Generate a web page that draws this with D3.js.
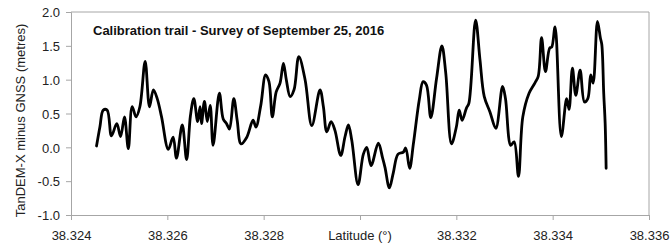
<!DOCTYPE html>
<html>
<head>
<meta charset="utf-8">
<script src="https://cdn.jsdelivr.net/npm/d3@7"></script>
<style>
  html, body { margin: 0; padding: 0; background: #fff; }
  svg { display: block; }
  text { font-family: "Liberation Sans", Arial, sans-serif; }
</style>
</head>
<body>
<svg id="chart" width="670" height="244"></svg>
<script>
// ---- data ----
const chartTitle = "Calibration trail - Survey of September 25, 2016";
const xTitle = "Latitude (°)";
const yTitle = "TanDEM-X minus GNSS (metres)";
const xTicks = [38.324, 38.326, 38.328, 38.330, 38.332, 38.334, 38.336];
const xTickLabels = ["38.324", "38.326", "38.328", "", "38.332", "38.334", "38.336"];
const yTicks = [-1.0, -0.5, 0.0, 0.5, 1.0, 1.5, 2.0];
const yTickLabels = ["-1.0", "-0.5", "0.0", "0.5", "1.0", "1.5", "2.0"];

const latitude = [
  38.32453, 38.32460, 38.32467, 38.32475, 38.32484, 38.32495, 38.32503, 38.32511,
  38.32519, 38.32527, 38.32535, 38.32543, 38.32554, 38.32563, 38.32571, 38.32579,
  38.32588, 38.32602, 38.32612, 38.32619, 38.32631, 38.32640, 38.32648, 38.32655,
  38.32663, 38.32668, 38.32671, 38.32677, 38.32683, 38.32689, 38.32695, 38.32708,
  38.32716, 38.32723, 38.32729, 38.32738, 38.32745, 38.32753, 38.32765, 38.32778,
  38.32784, 38.32794, 38.32804, 38.32811, 38.32818, 38.32826, 38.32834, 38.32841,
  38.32847, 38.32855, 38.32863, 38.32873, 38.32886, 38.32900, 38.32917, 38.32924,
  38.32931, 38.32940, 38.32948, 38.32960, 38.32969, 38.32976, 38.32983, 38.32996,
  38.33007, 38.33014, 38.33023, 38.33038, 38.33047, 38.33052, 38.33061, 38.33069,
  38.33079, 38.33090, 38.33095, 38.33103, 38.33111, 38.33123, 38.33131, 38.33138,
  38.33147, 38.33159, 38.33170, 38.33178, 38.33190, 38.33200, 38.33206, 38.33212,
  38.33221, 38.33226, 38.33240, 38.33249, 38.33258, 38.33270, 38.33282, 38.33296,
  38.33302, 38.33313, 38.33320, 38.33329, 38.33338, 38.33351, 38.33363, 38.33370,
  38.33377, 38.33385, 38.33394, 38.33398, 38.33405, 38.33418, 38.33429, 38.33434,
  38.33441, 38.33448, 38.33457, 38.33466, 38.33473, 38.33479, 38.33484, 38.33493,
  38.33499, 38.33502, 38.33506, 38.33509, 38.33511
];
const heightDiff = [
   0.02,  0.30,  0.55,  0.55,  0.17,  0.35,  0.16,  0.45,
  -0.02,  0.60,  0.45,  0.60,  1.27,  0.60,  0.85,  0.72,
   0.45, -0.03,  0.15, -0.16,  0.33, -0.18,  0.47,  0.72,
   0.38,  0.60,  0.35,  0.68,  0.38,  0.62,  0.03,  0.80,
   0.42,  0.35,  0.27,  0.72,  0.40,  0.05,  0.15,  0.40,
   0.30,  0.62,  1.07,  0.97,  0.45,  0.82,  0.95,  1.24,
   1.00,  0.75,  0.85,  1.34,  1.00,  0.32,  0.85,  0.60,
   0.23,  0.38,  0.25, -0.12,  0.16,  0.33,  0.10, -0.55,
  -0.10,  0.00, -0.27,  0.06, -0.16, -0.30, -0.60, -0.38,
  -0.10, -0.07, -0.01, -0.31,  0.06,  0.70,  0.97,  0.92,
   0.44,  1.02,  1.50,  1.10,  0.05,  0.30,  0.55,  0.40,
   0.58,  0.65,  1.88,  1.30,  0.75,  0.52,  0.28,  0.90,
   0.72,  0.03,  0.08, -0.43,  0.45,  0.80,  0.95,  1.05,
   1.62,  1.12,  1.47,  1.48,  1.78,  0.16,  0.72,  0.56,
   1.17,  0.77,  1.14,  0.67,  0.72,  1.07,  0.95,  1.86,
   1.62,  1.52,  0.80,  0.35, -0.31
];

// ---- layout ----
const svg = d3.select("#chart");
const margin = { left: 71, top: 12, right: 21, bottom: 29 };
const W = 670, H = 244;
const x = d3.scaleLinear().domain([38.324, 38.336]).range([margin.left, W - margin.right]);
const y = d3.scaleLinear().domain([-1.0, 2.0]).range([H - margin.bottom, margin.top]);
const frameColor = "#a6a6a6";

// frame (top and right)
svg.append("line").attr("x1", x(38.324)).attr("x2", x(38.336))
  .attr("y1", y(2.0)).attr("y2", y(2.0)).attr("stroke", frameColor).attr("stroke-width", 1);
svg.append("line").attr("x1", x(38.336)).attr("x2", x(38.336))
  .attr("y1", y(2.0)).attr("y2", y(-1.0)).attr("stroke", frameColor).attr("stroke-width", 1);

// axes
const xAxis = d3.axisBottom(x).tickValues(xTicks).tickSize(5)
  .tickFormat((d, i) => xTickLabels[i]);
const gx = svg.append("g").attr("transform", `translate(0,${y(-1.0)})`).call(xAxis);
const yAxis = d3.axisLeft(y).tickValues(yTicks).tickSize(5)
  .tickFormat((d, i) => yTickLabels[i]);
const gy = svg.append("g").attr("transform", `translate(${x(38.324)},0)`).call(yAxis);

[gx, gy].forEach(g => {
  g.select(".domain").attr("stroke", frameColor);
  g.selectAll(".tick line").attr("stroke", frameColor);
  g.selectAll(".tick text").attr("fill", "#222")
    .style("font-family", '"Liberation Sans", Arial, sans-serif').style("font-size", "13px");
});
gx.selectAll(".tick text").attr("dy", "0").attr("y", 25);
gy.selectAll(".tick text").attr("x", -11).attr("dy", "0.36em");

// data line
const pts = latitude.map((lat, i) => [lat, heightDiff[i]]);
const line = d3.line().x(d => x(d[0])).y(d => y(d[1])).curve(d3.curveCatmullRom.alpha(0.5));
svg.append("path").datum(pts).attr("d", line)
  .attr("fill", "none").attr("stroke", "#000").attr("stroke-width", 2.8)
  .attr("stroke-linejoin", "round").attr("stroke-linecap", "round");

// titles
svg.append("text").attr("x", 93).attr("y", 35)
  .style("font-weight", "bold").style("font-size", "13px").attr("fill", "#111")
  .text(chartTitle);
svg.append("text").attr("x", x(38.330)).attr("y", 240).attr("text-anchor", "middle")
  .style("font-size", "13px").attr("fill", "#222").text(xTitle);
svg.append("text").attr("transform", `translate(25,${120.5}) rotate(-90)`)
  .attr("text-anchor", "middle").style("font-size", "13px").attr("fill", "#222")
  .text(yTitle);
</script>
</body>
</html>
